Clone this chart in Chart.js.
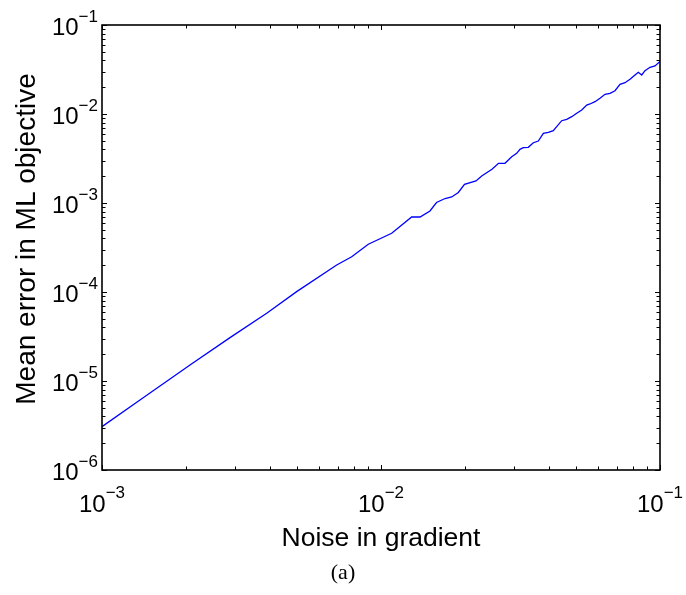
<!DOCTYPE html>
<html>
<head>
<meta charset="utf-8">
<script src="https://cdn.jsdelivr.net/npm/chart.js@4.4.1/dist/chart.umd.min.js"></script>
<style>
  html, body { margin: 0; padding: 0; background: #fff; }
  #wrap { width: 686px; height: 595px; }
</style>
</head>
<body>
<div id="wrap"><canvas id="errChart" width="686" height="595"></canvas></div>
<script>
// noise added to the gradient (x) and resulting mean error in the ML objective (y)
const noiseLevel = [
  0.001, 0.001368, 0.002067, 0.002876, 0.003893, 0.004985, 0.006937, 0.007852,
  0.009005, 0.01092, 0.01288, 0.0138, 0.01498, 0.01581, 0.01697, 0.01792,
  0.01893, 0.01992, 0.0219, 0.02296, 0.02499, 0.02637, 0.02782, 0.02941,
  0.03064, 0.03148, 0.03236, 0.03373, 0.03515, 0.03663, 0.03818, 0.03978,
  0.04146, 0.04263, 0.04443, 0.04631, 0.04826, 0.05029, 0.05242, 0.05462,
  0.05612, 0.05848, 0.06094, 0.06352, 0.06619, 0.06898, 0.07188, 0.07492,
  0.07808, 0.08137, 0.08361, 0.08599, 0.08835, 0.09209, 0.09596, 0.1
];
const meanError = [
  3.07e-6, 6.12e-6, 1.51e-5, 3.07e-5, 5.77e-5, 1.01e-4, 2.01e-4, 2.49e-4,
  3.44e-4, 4.57e-4, 6.96e-4, 6.96e-4, 8.13e-4, 1.013e-3, 1.123e-3, 1.168e-3,
  1.312e-3, 1.622e-3, 1.767e-3, 2.011e-3, 2.391e-3, 2.793e-3, 2.793e-3, 3.312e-3,
  3.617e-3, 4.012e-3, 4.181e-3, 4.225e-3, 4.758e-3, 4.973e-3, 6.069e-3, 6.229e-3,
  6.493e-3, 7.199e-3, 8.408e-3, 8.717e-3, 9.326e-3, 1.018e-2, 1.109e-2, 1.262e-2,
  1.296e-2, 1.375e-2, 1.501e-2, 1.665e-2, 1.709e-2, 1.827e-2, 2.157e-2, 2.248e-2,
  2.454e-2, 2.742e-2, 2.941e-2, 2.742e-2, 3.066e-2, 3.348e-2, 3.462e-2, 3.89e-2
];

// decade ticks and their exponents
const xTicks = [1e-3, 1e-2, 1e-1];
const xTickExp = ['\u22123', '\u22122', '\u22121'];
const yTicks = [1e-6, 1e-5, 1e-4, 1e-3, 1e-2, 1e-1];
const yTickExp = ['\u22126', '\u22125', '\u22124', '\u22123', '\u22122', '\u22121'];

const xTitle = 'Noise in gradient';
const yTitle = 'Mean error in ML objective';
const caption = '(a)';

const SANS = '"Liberation Sans", Arial, Helvetica, sans-serif';
const SERIF = '"Liberation Serif", "DejaVu Serif", serif';

function minorValues(decades) {
  const out = [];
  for (let k = 0; k < decades.length - 1; k++) {
    for (let m = 2; m <= 9; m++) out.push(decades[k] * m);
  }
  return out;
}

// boxed axes with inward ticks on every side, plus power-of-ten labels
const boxAxes = {
  id: 'boxAxes',
  afterDatasetsDraw(chart) {
    const { ctx, chartArea: a, scales: { x, y } } = chart;
    ctx.save();

    ctx.strokeStyle = '#000';
    ctx.lineWidth = 1;
    ctx.beginPath();
    const vTick = (v, len) => {
      const px = Math.round(x.getPixelForValue(v)) + 0.5;
      ctx.moveTo(px, a.bottom); ctx.lineTo(px, a.bottom - len);
      ctx.moveTo(px, a.top); ctx.lineTo(px, a.top + len);
    };
    const hTick = (v, len) => {
      const py = Math.round(y.getPixelForValue(v)) + 0.5;
      ctx.moveTo(a.left, py); ctx.lineTo(a.left + len, py);
      ctx.moveTo(a.right, py); ctx.lineTo(a.right - len, py);
    };
    xTicks.forEach(v => vTick(v, 5));
    minorValues(xTicks).forEach(v => vTick(v, 3.5));
    yTicks.forEach(v => hTick(v, 5));
    minorValues(yTicks).forEach(v => hTick(v, 3.5));
    ctx.stroke();

    ctx.lineWidth = 1.6;
    ctx.strokeRect(a.left, a.top, a.right - a.left, a.bottom - a.top);

    // tick labels: "10" with a raised exponent
    const baseFont = '24px ' + SANS;
    const expFont = '17px ' + SANS;
    ctx.fillStyle = '#000';
    ctx.textBaseline = 'alphabetic';
    ctx.textAlign = 'left';

    xTicks.forEach((v, i) => {
      ctx.font = baseFont;
      const wb = ctx.measureText('10').width;
      ctx.font = expFont;
      const we = ctx.measureText(xTickExp[i]).width;
      const left = x.getPixelForValue(v) - (wb + we) / 2;
      ctx.font = baseFont;
      ctx.fillText('10', left, a.bottom + 42);
      ctx.font = expFont;
      ctx.fillText(xTickExp[i], left + wb, a.bottom + 28);
    });

    yTicks.forEach((v, i) => {
      const py = y.getPixelForValue(v);
      ctx.font = expFont;
      const we = ctx.measureText(yTickExp[i]).width;
      ctx.font = baseFont;
      const wb = ctx.measureText('10').width;
      const right = a.left - 4;
      ctx.fillText('10', right - we - wb, py + 10);
      ctx.font = expFont;
      ctx.fillText(yTickExp[i], right - we, py - 3);
    });

    // axis titles
    ctx.font = '26.5px ' + SANS;
    ctx.textAlign = 'center';
    ctx.fillText(xTitle, (a.left + a.right) / 2, a.bottom + 76);

    ctx.save();
    ctx.font = '28px ' + SANS;
    ctx.translate(35, 239);
    ctx.rotate(-Math.PI / 2);
    ctx.fillText(yTitle, 0, 0);
    ctx.restore();

    // sub-figure caption
    ctx.font = '22px ' + SERIF;
    ctx.fillText(caption, (a.left + a.right) / 2 - 38, a.bottom + 109);

    ctx.restore();
  }
};

new Chart(document.getElementById('errChart'), {
  type: 'line',
  data: {
    datasets: [{
      data: noiseLevel.map((v, i) => ({ x: v, y: meanError[i] })),
      borderColor: '#0000ff',
      borderWidth: 1.3,
      pointRadius: 0,
      tension: 0,
      fill: false
    }]
  },
  options: {
    responsive: false,
    animation: false,
    layout: { padding: { top: 25, right: 26, left: 0, bottom: 0 } },
    plugins: { legend: { display: false }, tooltip: { enabled: false } },
    scales: {
      x: {
        type: 'logarithmic', min: 1e-3, max: 1e-1,
        grid: { display: false }, border: { display: false }, ticks: { display: false },
        afterFit(s) { s.height = 125; }
      },
      y: {
        type: 'logarithmic', min: 1e-6, max: 1e-1,
        grid: { display: false }, border: { display: false }, ticks: { display: false },
        afterFit(s) { s.width = 102; }
      }
    }
  },
  plugins: [boxAxes]
});
</script>
</body>
</html>
